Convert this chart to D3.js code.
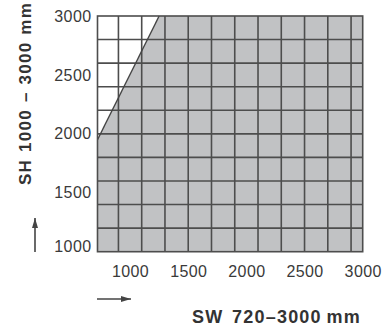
<!DOCTYPE html>
<html>
<head>
<meta charset="utf-8">
<script src="https://cdn.jsdelivr.net/npm/d3@7"></script>
<style>
  html, body { margin: 0; padding: 0; background: #fff; }
  svg { display: block; font-family: "Liberation Sans", Arial, Helvetica, sans-serif; }
</style>
</head>
<body>
<svg id="chart" width="383" height="331"></svg>
<script>
// Data
const xDomain = [720, 3000];
const yDomain = [1000, 3000];
const xTicks = [1000, 1500, 2000, 2500, 3000];
const yTicks = [1000, 1500, 2000, 2500, 3000];
const xGrid = [900, 1100, 1300, 1500, 1700, 1900, 2100, 2300, 2500, 2700, 2900];
const yGrid = [1200, 1400, 1600, 1800, 2000, 2200, 2400, 2600, 2800];
// boundary of the feasible (shaded) area
const areaX = [720, 1250, 3000, 3000, 720];
const areaY = [1950, 3000, 3000, 1000, 1000];
const xTitle = "SW 720–3000\u2009mm";
const yTitle = "SH 1000 – 3000 mm";

const svg = d3.select("#chart");
const L = 97.5, R = 362.7, T = 16, B = 251.7;
const x = d3.scaleLinear().domain(xDomain).range([L, R]);
const y = d3.scaleLinear().domain(yDomain).range([B, T]);

// shaded region
svg.append("path")
  .datum(areaX.map((v, i) => [v, areaY[i]]))
  .attr("d", d3.line().x(d => x(d[0])).y(d => y(d[1])))
  .attr("fill", "#c1c2c4")
  .attr("stroke", "none");

// grid lines
const gridColor = "#4d4d4d";
svg.append("g").selectAll("line").data(xGrid).join("line")
  .attr("x1", d => x(d)).attr("x2", d => x(d))
  .attr("y1", T).attr("y2", B)
  .attr("stroke", gridColor).attr("stroke-width", 1.6);
svg.append("g").selectAll("line").data(yGrid).join("line")
  .attr("y1", d => y(d)).attr("y2", d => y(d))
  .attr("x1", L).attr("x2", R)
  .attr("stroke", gridColor).attr("stroke-width", 1.6);

// boundary diagonal line
svg.append("line")
  .attr("x1", x(areaX[0])).attr("y1", y(areaY[0]))
  .attr("x2", x(areaX[1])).attr("y2", y(areaY[1]))
  .attr("stroke", "#444").attr("stroke-width", 1.4);

// frame
svg.append("rect")
  .attr("x", L).attr("y", T).attr("width", R - L).attr("height", B - T)
  .attr("fill", "none").attr("stroke", gridColor).attr("stroke-width", 1.6);

// axes (tick labels only)
const xAxis = d3.axisBottom(x).tickValues(xTicks).tickSize(0).tickPadding(14).tickFormat(d3.format("d"));
const gx = svg.append("g").attr("transform", `translate(0,${B})`).call(xAxis);
gx.select(".domain").remove();
gx.selectAll("text").attr("font-size", 16).attr("letter-spacing", 0.4).attr("fill", "#3a3a3a")
  .attr("font-family", "Liberation Sans, Arial, sans-serif");

const yAxis = d3.axisLeft(y).tickValues(yTicks).tickSize(0).tickPadding(6).tickFormat(d3.format("d"));
const gy = svg.append("g").attr("transform", `translate(${L},0)`).call(yAxis);
gy.select(".domain").remove();
gy.selectAll("text").attr("font-size", 16).attr("letter-spacing", 0.4).attr("fill", "#3a3a3a")
  .attr("font-family", "Liberation Sans, Arial, sans-serif");
gy.selectAll(".tick").filter(d => d === yDomain[0]).select("text").attr("dy", "0.0em");

// titles
svg.append("text")
  .attr("x", 192).attr("y", 323)
  .attr("font-size", 18).attr("font-weight", "bold").attr("fill", "#333")
  .attr("letter-spacing", 1.2).attr("word-spacing", 2.5)
  .text(xTitle);
svg.append("text")
  .attr("transform", "translate(31,185) rotate(-90)")
  .attr("font-size", 17).attr("font-weight", "bold").attr("fill", "#333")
  .attr("letter-spacing", 1.25).attr("word-spacing", 1)
  .text(yTitle);

// arrows
const defs = svg.append("defs");
defs.append("marker").attr("id", "ah").attr("viewBox", "0 0 10 6")
  .attr("refX", 10).attr("refY", 3).attr("markerWidth", 10).attr("markerHeight", 6)
  .attr("markerUnits", "userSpaceOnUse").attr("orient", "auto")
  .append("path").attr("d", "M0,0 L10,3 L0,6 Z").attr("fill", "#444");
svg.append("line").attr("x1", 35).attr("y1", 252).attr("x2", 35).attr("y2", 218)
  .attr("stroke", "#444").attr("stroke-width", 1.6).attr("marker-end", "url(#ah)");
svg.append("line").attr("x1", 97).attr("y1", 299).attr("x2", 131).attr("y2", 299)
  .attr("stroke", "#444").attr("stroke-width", 1.6).attr("marker-end", "url(#ah)");
</script>
</body>
</html>
